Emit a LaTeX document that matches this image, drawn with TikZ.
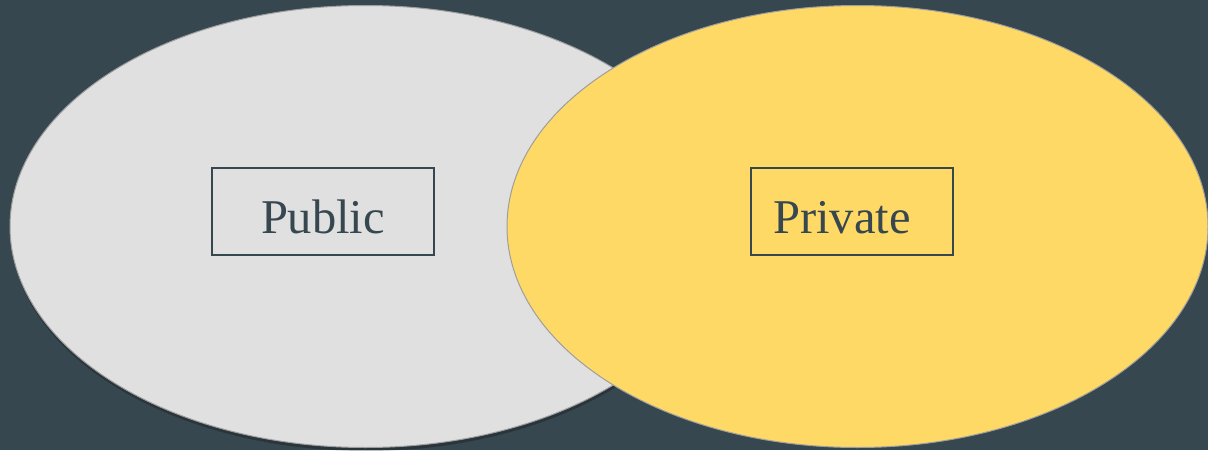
\documentclass[tikz,border=0pt]{standalone}
\usepackage{fontspec}
\setmainfont{Liberation Serif}
\definecolor{bgc}{HTML}{37474F}
\definecolor{grayfill}{HTML}{E0E0E0}
\definecolor{yellowfill}{HTML}{FFD966}
\definecolor{edgec}{HTML}{9E9E9E}
\tikzset{
  blob/.style={draw=edgec, line width=1pt},
  labelbox/.style={draw=bgc, line width=1.2pt, inner sep=0pt},
  labeltext/.style={text=bgc, font=\fontsize{48.5}{52}\selectfont, inner sep=0pt, anchor=base}
}
\begin{document}
\begin{tikzpicture}[x=1pt,y=-1pt]
\useasboundingbox (0,0) rectangle (1208,450);
\fill[bgc] (0,0) rectangle (1208,450);
% left ellipse with soft shadow
\fill[black, opacity=0.25] (366,230) ellipse [x radius=355.5, y radius=221];
\filldraw[blob, fill=grayfill] (365.5,226.5) ellipse [x radius=355.5, y radius=221];
% right ellipse
\filldraw[blob, fill=yellowfill] (857.5,226.5) ellipse [x radius=350.5, y radius=221];
% boxes
\node[labelbox, minimum width=222pt, minimum height=87pt] (pubbox) at (323,211.5) {};
\node[labelbox, minimum width=202pt, minimum height=87pt] (privbox) at (852,211.5) {};
\node[labeltext] (pub) at (323,233) {Public};
\node[labeltext] (priv) at (842,233) {Private};
\end{tikzpicture}
\end{document}
